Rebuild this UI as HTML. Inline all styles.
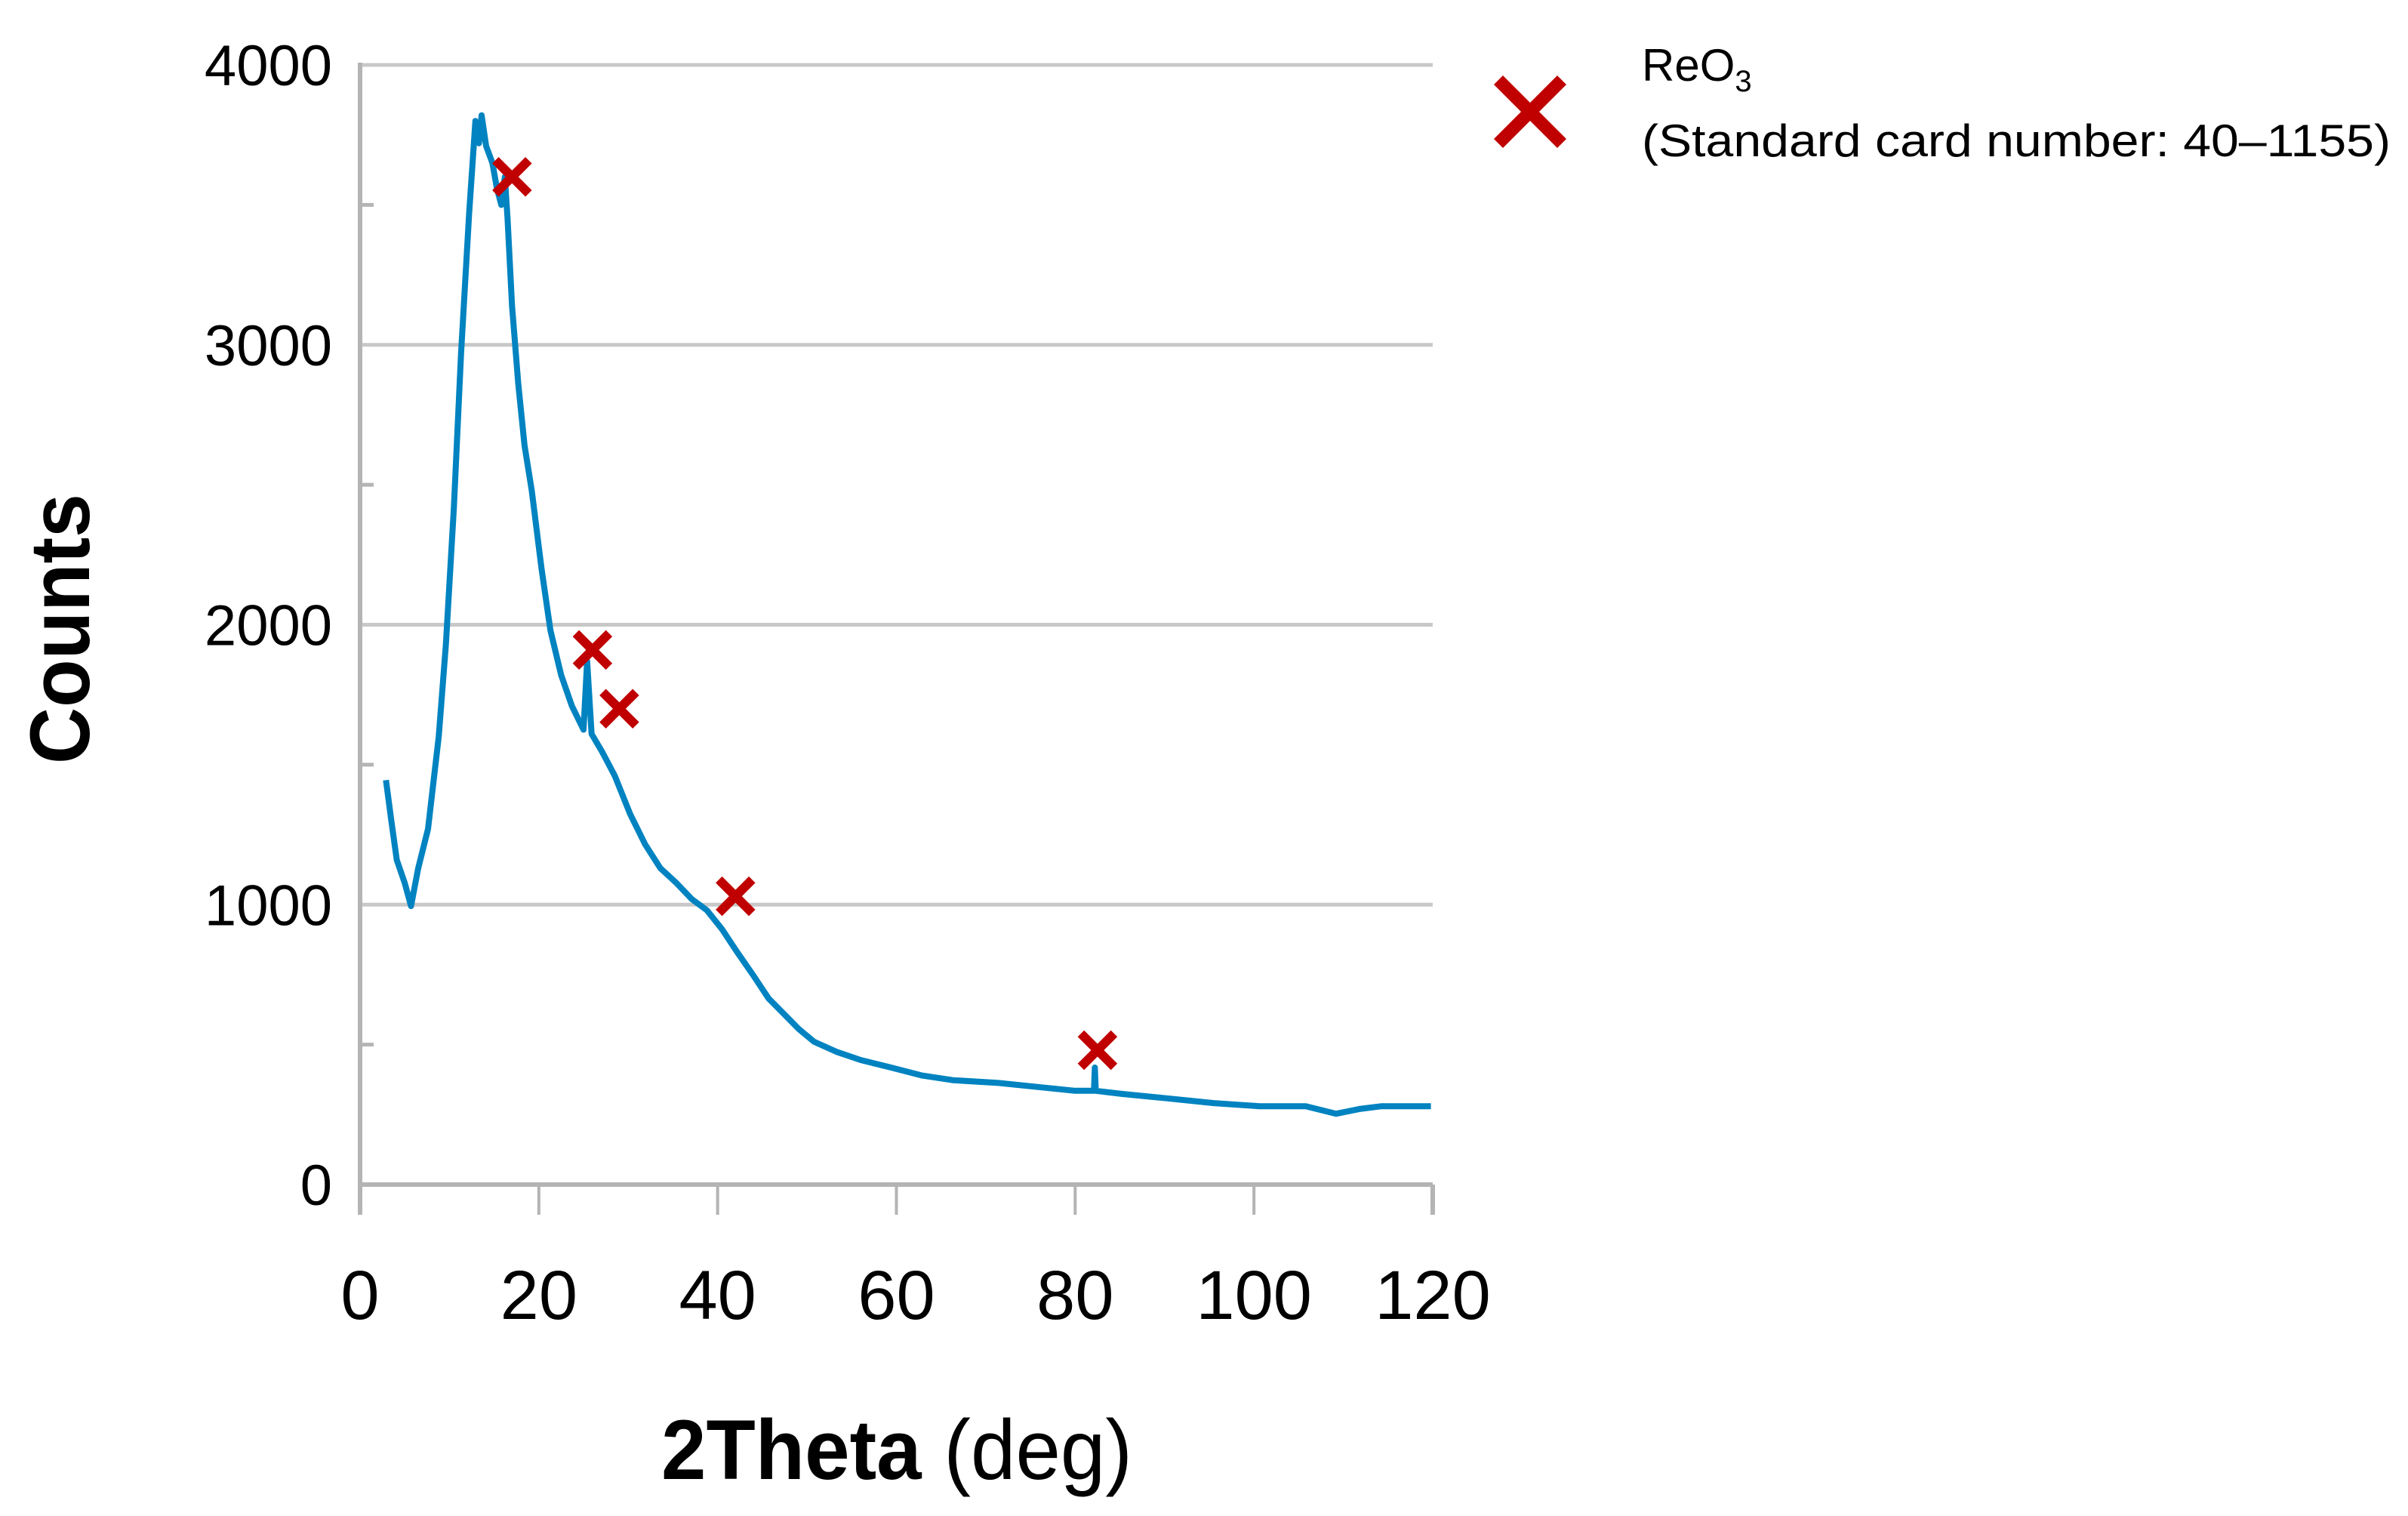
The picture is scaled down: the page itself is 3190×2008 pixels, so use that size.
<!DOCTYPE html>
<html><head><meta charset="utf-8"><style>
html,body{margin:0;padding:0;background:#fff;}
svg{display:block;font-family:"Liberation Sans",sans-serif;}
</style></head><body>
<svg id="chart" width="3190" height="2008" viewBox="0 0 3190 2008" xmlns="http://www.w3.org/2000/svg">
<g id="grid"></g>
<g id="axes"></g>
<g id="series"></g>
<g id="marks"></g>
<text x="876" y="1959" textLength="624" lengthAdjust="spacingAndGlyphs" font-size="112"><tspan font-weight="bold">2Theta</tspan> (deg)</text>
<text transform="translate(118,833) rotate(-90)" text-anchor="middle" font-size="112" font-weight="bold" textLength="358" lengthAdjust="spacingAndGlyphs">Counts</text>
<g>
  <g stroke="#c00000" stroke-width="17">
    <line x1="1985" y1="106" x2="2069" y2="190"/><line x1="2069" y1="106" x2="1985" y2="190"/>
  </g>
  <text x="2175" y="107" font-size="60">ReO<tspan font-size="40" dy="14">3</tspan></text>
  <text x="2175" y="207" font-size="60" textLength="992" lengthAdjust="spacingAndGlyphs">(Standard card number: 40‒1155)</text>
</g>
</svg>
<script>
const xTicks = [0, 20, 40, 60, 80, 100, 120];
const yTicks = [0, 1000, 2000, 3000, 4000];
const yMinor = [500, 1500, 2500, 3500];
const thetaValues = [2.9,3.5,4.1,5,5.7,6.5,7.6,8.8,9.6,10.5,11.3,12.2,12.9,13.3,13.6,14.1,14.8,15.3,15.8,16.2,16.5,17,17.7,18.4,19.2,20.3,21.3,22.5,23.7,25,25.4,25.9,27.1,28.5,30.2,31.9,33.6,35.4,37.1,38.8,40.5,42.2,44,45.7,47.4,49.1,50.8,53.4,56,59.4,62.8,66.3,71.4,76.6,80,82.1,82.2,82.3,85.2,90.3,95.5,100.6,105.8,109.2,111.8,114.3,116.9,119.8];
const countValues = [1445,1300,1160,1077,995,1130,1270,1600,1930,2420,2970,3470,3800,3720,3820,3710,3650,3560,3500,3600,3450,3140,2860,2640,2480,2200,1980,1820,1710,1625,1870,1610,1545,1460,1325,1215,1130,1077,1020,980,912,830,747,665,610,555,510,473,445,418,390,373,363,346,335,335,418,335,324,308,291,280,280,253,270,280,280,280];
const peakTheta = [17, 26, 29, 42, 82.5];
const peakCounts = [3600, 1910, 1700, 1030, 480];

const X0=477, X1=1898, Y0=1569, Y1=86;
const sx = v => X0 + (v-0)/(120-0)*(X1-X0);
const sy = v => Y0 - (v-0)/(4000-0)*(Y0-Y1);
const NS="http://www.w3.org/2000/svg";
function mk(tag, parent, attrs){const e=document.createElementNS(NS,tag);for(const k in attrs)e.setAttribute(k,attrs[k]);parent.appendChild(e);return e;}
const grid=document.getElementById('grid'), axes=document.getElementById('axes'), series=document.getElementById('series'), marks=document.getElementById('marks');

yTicks.forEach(v=>{
  if(v>0){const g=mk('line',grid,{x1:X0,x2:X1,y1:sy(v),y2:sy(v),stroke:'#c8c8c8','stroke-width':5});
  
  }
  const t=mk('text',axes,{x:440,y:sy(v)+27,'text-anchor':'end','font-size':76});
  t.textContent=v;
  
  
});
yMinor.forEach(v=>{
  const l=mk('line',axes,{x1:X0,x2:X0+18,y1:sy(v),y2:sy(v),stroke:'#b4b4b4','stroke-width':5});
  
  
});
const ya=mk('line',axes,{x1:X0,x2:X0,y1:Y1-3,y2:Y0+3,stroke:'#b4b4b4','stroke-width':6});


const xa=mk('line',axes,{x1:X0,x2:X1,y1:Y0,y2:Y0,stroke:'#b4b4b4','stroke-width':6});


xTicks.forEach(v=>{
  const l=mk('line',axes,{x1:sx(v),x2:sx(v),y1:Y0,y2:1609,stroke:'#b4b4b4','stroke-width':v===0||v===120?6:4});
  
  
  const t=mk('text',axes,{x:sx(v),y:1747,'text-anchor':'middle','font-size':92});
  t.textContent=v;
  
  
});
const pts=thetaValues.map((t,i)=>sx(t).toFixed(1)+','+sy(countValues[i]).toFixed(1)).join(' ');
const pl=mk('polyline',series,{points:pts,fill:'none',stroke:'#0083c0','stroke-width':8,'stroke-linejoin':'round'});


peakTheta.forEach((t,i)=>{
  const cx=sx(t), cy=sy(peakCounts[i]), r=22;
  const g=mk('g',marks,{stroke:'#c00000','stroke-width':12});
  
  
  mk('line',g,{x1:cx-r,y1:cy-r,x2:cx+r,y2:cy+r});
  mk('line',g,{x1:cx+r,y1:cy-r,x2:cx-r,y2:cy+r});
});
</script>
</body></html>
